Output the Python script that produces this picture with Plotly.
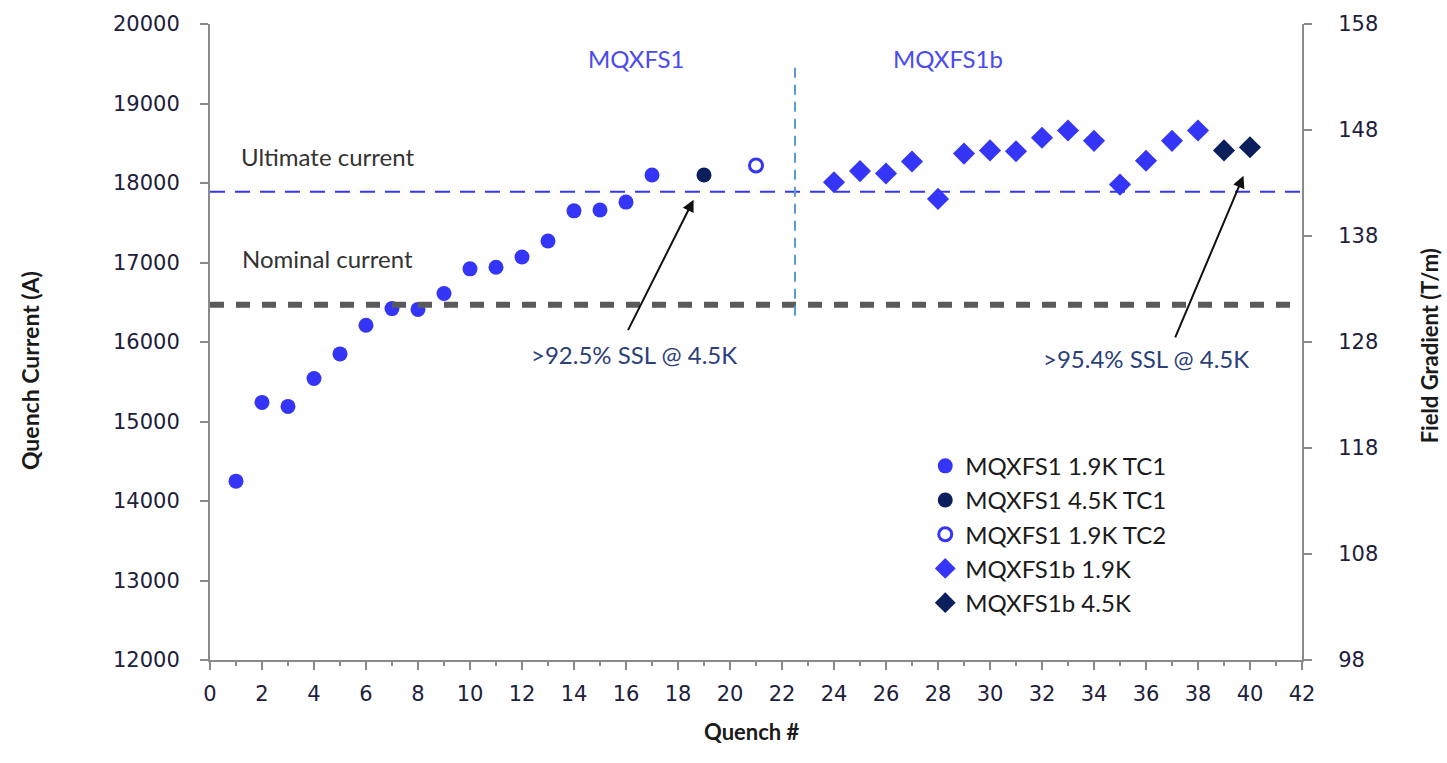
import plotly.graph_objects as go

# Quench history, quench number vs quench current (A)
quench_tc1 = list(range(1, 18))
current_tc1 = [14250, 15240, 15190, 15540, 15850, 16210, 16420, 16410, 16610,
               16920, 16940, 17070, 17270, 17650, 17660, 17760, 18100]
quench_45k = [19]
current_45k = [18100]
quench_tc2 = [21]
current_tc2 = [18220]
quench_b19 = list(range(24, 39))
current_b19 = [18010, 18150, 18120, 18270, 17800, 18370, 18410, 18400, 18570,
               18660, 18530, 17980, 18280, 18530, 18660]
quench_b45 = [39, 40]
current_b45 = [18410, 18450]

nominal_current = 16470
ultimate_current = 17890
magnet_split = 22.5

x_ticks = list(range(0, 43, 2))
current_ticks = list(range(12000, 20001, 1000))
current_labels = [str(v) for v in current_ticks]
gradient_ticks = [98, 108, 118, 128, 138, 148, 158]
gradient_labels = [str(v) for v in gradient_ticks]

BLUE = "#3535F8"
NAVY = "#0B1F5C"
AXIS = "#8A8A8A"
TICKFONT = dict(family="DejaVu Sans", size=21, color="#20203A")
TEXTFONT = "Lato"

fig = go.Figure()

series = [
    ("MQXFS1 1.9K TC1", quench_tc1, current_tc1,
     dict(symbol="circle", size=15, color=BLUE)),
    ("MQXFS1 4.5K TC1", quench_45k, current_45k,
     dict(symbol="circle", size=15, color=NAVY)),
    ("MQXFS1 1.9K TC2", quench_tc2, current_tc2,
     dict(symbol="circle-open", size=13, color=BLUE, line=dict(width=3, color=BLUE))),
    ("MQXFS1b 1.9K", quench_b19, current_b19,
     dict(symbol="diamond", size=17, color=BLUE)),
    ("MQXFS1b 4.5K", quench_b45, current_b45,
     dict(symbol="diamond", size=17, color=NAVY)),
]
for i, (name, xs, ys, marker) in enumerate(series):
    fig.add_trace(go.Scatter(x=xs, y=ys, mode="markers", name=name,
                             marker=marker, legendgroup=f"g{i}"))

# secondary axis carrier (field gradient scale)
fig.add_trace(go.Scatter(x=[None], y=[None], yaxis="y2", showlegend=False,
                         hoverinfo="skip"))

# reference lines
fig.add_shape(type="line", xref="x", yref="y", x0=0, x1=42,
              y0=ultimate_current, y1=ultimate_current,
              line=dict(color=BLUE, width=2, dash="15px,10px"))
fig.add_shape(type="line", xref="x", yref="y", x0=0, x1=42,
              y0=nominal_current, y1=nominal_current,
              line=dict(color="#5A5A5A", width=6, dash="14px,12px"))
fig.add_shape(type="line", xref="x", yref="y", x0=magnet_split, x1=magnet_split,
              y0=16330, y1=19450,
              line=dict(color="#5B9BD5", width=2, dash="10px,7px"))

labels = [
    ("MQXFS1", 16.4, 19560, "#4A4AF0"),
    ("MQXFS1b", 28.4, 19560, "#4A4AF0"),
    ("Ultimate current", 4.5, 18330, "#333333"),
    ("Nominal current", 4.5, 17050, "#333333"),
    (">92.5% SSL @ 4.5K", 16.3, 15840, "#2B3F7A"),
    (">95.4% SSL @ 4.5K", 36.0, 15790, "#2B3F7A"),
]
for text, x, y, color in labels:
    fig.add_annotation(x=x, y=y, xref="x", yref="y", text=text, showarrow=False,
                       font=dict(family=TEXTFONT, size=24, color=color))

# arrows pointing at the 4.5 K quenches
for (tx, ty, hx, hy) in [(16.05, 16130, 18.6, 17790), (37.1, 16040, 39.75, 18090)]:
    fig.add_annotation(x=hx, y=hy, ax=tx, ay=ty, xref="x", yref="y",
                       axref="x", ayref="y", text="", showarrow=True,
                       arrowhead=2, arrowsize=1.2, arrowwidth=2, arrowcolor="#111111")

# axis titles
fig.add_annotation(x=-0.18, y=0.455, xref="paper", yref="paper",
                   text="<b>Quench Current (A)</b>", textangle=-90, showarrow=False,
                   font=dict(family=TEXTFONT, size=23, color="#1A1A1A"))
fig.add_annotation(x=1.131, y=0.494, xref="paper", yref="paper",
                   text="<b>Field Gradient (T/m)</b>", textangle=-90, showarrow=False,
                   font=dict(family=TEXTFONT, size=22, color="#1A1A1A"))
fig.add_annotation(x=0.496, y=-0.113, xref="paper", yref="paper",
                   xanchor="center", yanchor="middle",
                   text="<b>Quench #</b>", showarrow=False,
                   font=dict(family=TEXTFONT, size=22, color="#1A1A1A"))

fig.update_layout(
    width=1447, height=763,
    margin=dict(l=210, r=145, t=22, b=103),
    plot_bgcolor="white", paper_bgcolor="white",
    showlegend=True,
    legend=dict(x=0.655, y=0.34, xanchor="left", yanchor="top",
                font=dict(family=TEXTFONT, size=24, color="#1A1A1A"),
                bgcolor="rgba(0,0,0,0)", traceorder="grouped", tracegroupgap=0),
    xaxis=dict(range=[0, 42], tickvals=x_ticks, ticks="outside", ticklen=8,
               tickwidth=1.5, tickcolor=AXIS, showline=True, linecolor=AXIS,
               linewidth=2, showgrid=False, zeroline=False, tickfont=TICKFONT,
               ticklabelstandoff=6,
               minor=dict(dtick=1, ticks="outside", ticklen=4, tickcolor=AXIS)),
    yaxis=dict(range=[12000, 20000], tickvals=current_ticks, ticktext=current_labels,
               ticks="outside", ticklen=8, tickwidth=1.5, tickcolor=AXIS,
               showline=True, linecolor=AXIS, linewidth=2, showgrid=False,
               zeroline=False, tickfont=TICKFONT, ticklabelstandoff=16),
    yaxis2=dict(range=[98, 158], tickvals=gradient_ticks, ticktext=gradient_labels,
                overlaying="y", side="right", ticks="outside", ticklen=8,
                tickwidth=1.5, tickcolor=AXIS, showline=True, linecolor=AXIS,
                linewidth=2, showgrid=False, zeroline=False, tickfont=TICKFONT,
                ticklabelstandoff=22),
)

fig.write_html("out.html")
